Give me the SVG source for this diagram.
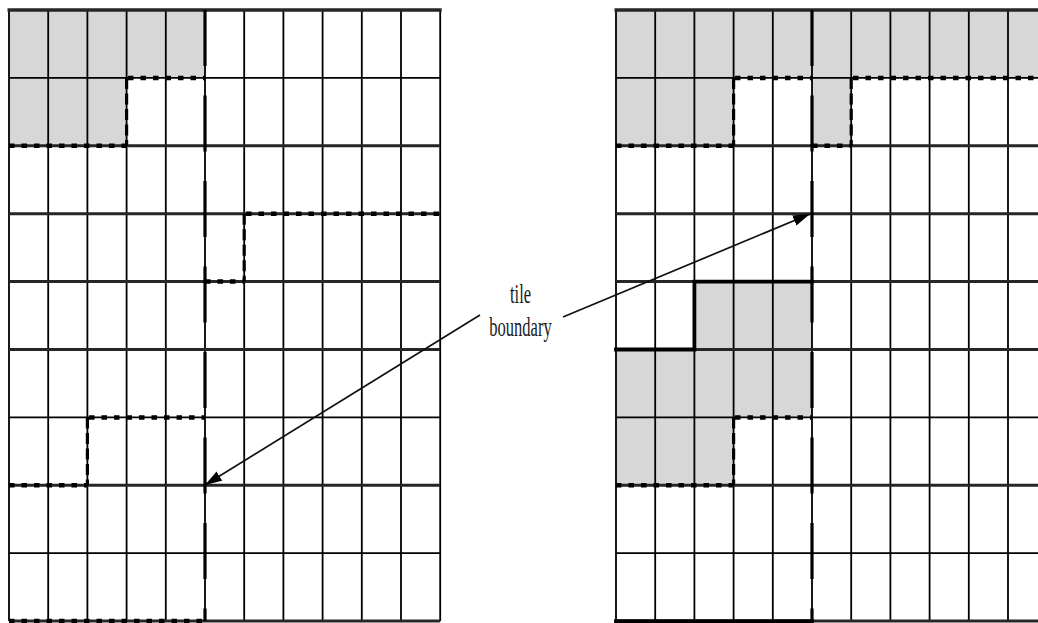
<svg xmlns="http://www.w3.org/2000/svg" width="1038" height="623" viewBox="0 0 1038 623">
<style>
.fill{fill:#d7d7d7;stroke:none}
.thin{stroke:#000;stroke-width:1.8;fill:none}
.thick{stroke:#262626;stroke-width:3;fill:none}
.tile{stroke:#000;stroke-width:3.2;fill:none;stroke-dasharray:56 29.5}
.dot{stroke:#000;stroke-width:4.5;fill:none;stroke-dasharray:5.5 7}
.vdash{stroke:#000;stroke-width:3.2;fill:none;stroke-dasharray:11 4.5}
.bound{stroke:#000;stroke-width:3.8;fill:none;stroke-linecap:square}
.arrow{stroke:#111;stroke-width:1.7;fill:none;marker-end:url(#ah)}
.label{font-family:"Liberation Serif","Times New Roman",serif;font-size:16.5px;fill:#1a1a1a;text-anchor:middle}
</style>
<defs>
<marker id="ah" markerUnits="userSpaceOnUse" markerWidth="18" markerHeight="11" refX="17" refY="5.5" orient="auto">
<path d="M0,0 L17,5.5 L0,11 z" fill="#000"/>
</marker>
</defs>
<rect width="1038" height="623" fill="#fff"/>

<g id="left-grid">
<rect class="fill" x="9" y="10" width="196" height="67.9"/>
<rect class="fill" x="9" y="77.9" width="117.6" height="67.9"/>
<path class="thin" d="M9,10V621.1M48.2,10V621.1M87.4,10V621.1M126.6,10V621.1M165.8,10V621.1M205,10V621.1M244.2,10V621.1M283.4,10V621.1M322.6,10V621.1M361.8,10V621.1M401,10V621.1M440.2,10V621.1"/>
<path class="thin" d="M9,77.9H440.2M9,417.4H440.2M9,553.2H440.2"/>
<path class="thick" d="M9,145.8H440.2M9,213.7H440.2M9,281.6H440.2M9,349.5H440.2M9,485.3H440.2M9,621.1H440.2"/>
<path class="thick" style="stroke-width:3.5" d="M7.5,10H441.7"/>
<path class="tile" d="M205,10V621.1"/>
<path class="dot" d="M128,77.9H205M9,145.8H126.6M246,213.7H440.2M205,281.6H244.2M89,417.4H205M9,485.3H87.4M9,621.1H205"/>
<path class="vdash" d="M126.6,77.9V145.8M244.2,213.7V281.6M87.4,417.4V485.3"/>
</g>

<g id="right-grid">
<rect class="fill" x="616" y="10" width="432" height="67.9"/>
<rect class="fill" x="616" y="77.9" width="117.6" height="67.9"/>
<rect class="fill" x="812" y="77.9" width="39.2" height="67.9"/>
<rect class="fill" x="694.4" y="281.6" width="117.6" height="67.9"/>
<rect class="fill" x="616" y="349.5" width="196" height="67.9"/>
<rect class="fill" x="616" y="417.4" width="117.6" height="67.9"/>
<path class="thin" d="M616,10V621.1M655.2,10V621.1M694.4,10V621.1M733.6,10V621.1M772.8,10V621.1M812,10V621.1M851.2,10V621.1M890.4,10V621.1M929.6,10V621.1M968.8,10V621.1M1008,10V621.1"/>
<path class="thin" d="M616,77.9H1048M616,417.4H1048M616,553.2H1048"/>
<path class="thick" d="M616,145.8H1048M616,213.7H1048M616,281.6H1048M616,349.5H1048M616,485.3H1048M616,621.1H1048"/>
<path class="thick" style="stroke-width:3.5" d="M614.5,10H1048"/>
<path class="tile" d="M812,10V621.1"/>
<path class="dot" d="M735,77.9H812M853,77.9H1048M616,145.8H733.6M812,145.8H851.2M735,417.4H812M616,485.3H733.6"/>
<path class="vdash" d="M733.6,77.9V145.8M851.2,77.9V145.8M733.6,417.4V485.3"/>
<path class="bound" d="M812,281.6H694.4V349.5H616"/>
<path class="bound" d="M616,621.1H812"/>
</g>

<g id="label">
<text class="label" transform="translate(520.5,303) scale(1,1.6)">tile</text>
<text class="label" transform="translate(520.5,336) scale(1,1.6)">boundary</text>
</g>

<g id="connectors">
<path class="arrow" d="M480,315L205,485"/>
<path class="arrow" d="M563,317L810,214"/>
</g>
</svg>
